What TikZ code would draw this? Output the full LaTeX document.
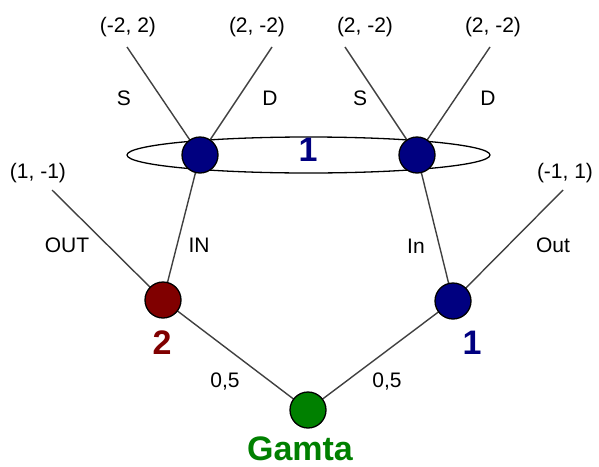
\documentclass[tikz,border=0pt]{standalone}
\usepackage{fontspec}
\setmainfont{Liberation Sans}
\definecolor{navyc}{HTML}{000080}
\definecolor{redc}{HTML}{800000}
\definecolor{greenc}{HTML}{008000}
\begin{document}
\begin{tikzpicture}[x=1pt,y=-1pt,
  vert/.style={circle,draw=black,line width=1.3pt,minimum size=36pt,inner sep=0pt},
  edge/.style={draw=black!75,line width=1.4pt},
  lab/.style={font=\fontsize{21}{21}\selectfont,inner sep=0pt},
  big/.style={font=\fontsize{34}{34}\selectfont\bfseries,inner sep=0pt}]
\useasboundingbox (0,0) rectangle (599,466);
% free ends
\coordinate (e1) at (127,47);
\coordinate (e2) at (272,47);
\coordinate (e3) at (345,47);
\coordinate (e4) at (490,47);
\coordinate (e5) at (52,190);
\coordinate (e6) at (563,190);
% ellipse
\draw[line width=1.3pt] (308.5,155) ellipse [x radius=181.5, y radius=18];
% node positions
\coordinate (pA) at (200,155);
\coordinate (pB) at (417,155);
\coordinate (pR) at (163,300);
\coordinate (pC) at (453,301);
\coordinate (pG) at (308,410);
% edges
\draw[edge] (e1) -- (pA) -- (e2);
\draw[edge] (e3) -- (pB) -- (e4);
\draw[edge] (e5) -- (pR) -- (pA);
\draw[edge] (e6) -- (pC) -- (pB);
\draw[edge] (pR) -- (pG) -- (pC);
% vertices
\node[vert,fill=navyc] (A) at (pA) {};
\node[vert,fill=navyc] (B) at (pB) {};
\node[vert,fill=redc] (R) at (pR) {};
\node[vert,fill=navyc] (C) at (pC) {};
\node[vert,fill=greenc] (G) at (pG) {};
% labels
\node[lab] (t1) at (128,27) {(-2, 2)};
\node[lab] (t2) at (257,27) {(2, -2)};
\node[lab] (t3) at (365,27) {(2, -2)};
\node[lab] (t4) at (493,27) {(2, -2)};
\node[lab] (t5) at (38,173) {(1, -1)};
\node[lab] (t6) at (565,173) {(-1, 1)};
\node[lab] (s1) at (124,98) {S};
\node[lab] (d1) at (270,98) {D};
\node[lab] (s2) at (360,98) {S};
\node[lab] (d2) at (488,98) {D};
\node[lab] (o1) at (67,245) {OUT};
\node[lab] (i1) at (199,245) {IN};
\node[lab] (i2) at (416,246) {In};
\node[lab] (o2) at (553,245) {Out};
\node[lab] (w1) at (225,382) {0,5};
\node[lab] (w2) at (387,382) {0,5};
\node[big,text=navyc] (n1) at (308,150) {1};
\node[big,text=redc] (n2) at (162,343) {2};
\node[big,text=navyc] (n3) at (472,343) {1};
\node[big,text=greenc,anchor=base] (ng) at (300,460) {Gamta};
\end{tikzpicture}
\end{document}
